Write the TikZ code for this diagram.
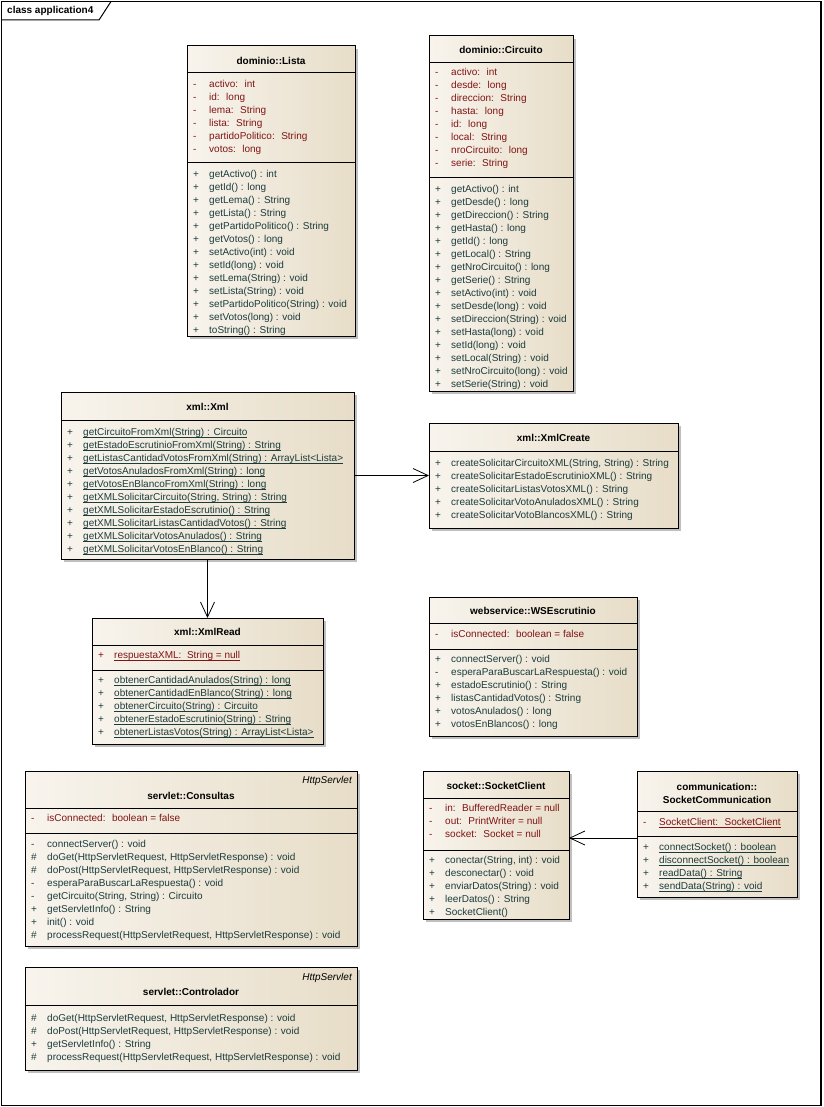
\documentclass[tikz,border=0pt]{standalone}
\usepackage{fontspec}
\setmainfont{Liberation Sans}
\usetikzlibrary{arrows.meta,shadows}

\definecolor{attrc}{RGB}{128,20,20}
\definecolor{methc}{RGB}{28,60,60}
\definecolor{boxl}{RGB}{248,244,237}
\definecolor{boxr}{RGB}{231,221,200}

\newcommand\umlfont{\fontsize{10}{12}\selectfont}
% wrappers for member texts: plain or underlined (static members)
\newcommand\asis[1]{#1}
\newcommand\ulined[1]{\setbox0\hbox{#1}\rlap{\rule[-1.7pt]{\wd0}{0.6pt}}\box0}
% rows of a compartment: #1 name prefix, #2 left x, #3 centre y of first row,
% #4 text style, #5 wrapper, #6 list of visibility/text pairs
\newcommand\members[6]{%
  \foreach [count=\i] \mvis/\mtext in {#6}{%
    \node[#4] (#1\i s) at ({#2+6},{#3+13*(\i-1)+3.5}) {\mvis};
    \node[#4] (#1\i) at ({#2+22},{#3+13*(\i-1)+3.5}) {#5{\mtext}};
  }}
\newcommand\hsep[2]{\draw[umlline] (#1.west |- 0,#2) -- (#1.east |- 0,#2);}

\tikzset{
  umlclass/.style={draw=black, line width=1pt, left color=boxl, right color=boxr,
    anchor=north west, inner sep=0pt, outer sep=0pt,
    drop shadow={shadow xshift=3pt, shadow yshift=-3pt, fill=black, opacity=0.25}},
  umlline/.style={line width=1pt, draw=black},
  umltitle/.style={font=\bfseries\umlfont, anchor=base, inner sep=0pt},
  stereo/.style={font=\itshape\umlfont, anchor=base east, inner sep=0pt},
  atxt/.style={font=\umlfont, text=attrc, anchor=base west, inner sep=0pt},
  mtxt/.style={font=\umlfont, text=methc, anchor=base west, inner sep=0pt},
  assoc/.style={line width=0.8pt, draw=black,
    -{Straight Barb[length=15pt, width=14pt, line width=0.8pt]}},
}

\begin{document}
\begin{tikzpicture}[x=1pt, y=-1pt]
\useasboundingbox (0,0) rectangle (823,1107);
\fill[white] (0,0) rectangle (823,1107);

% diagram frame with its name tab
\draw[line width=1.3pt] (1.5,1.5) rectangle (821,1105.5);
\draw[line width=1pt] (1.5,20) -- (99,20) -- (111,1.5);
\node[font=\bfseries\umlfont, anchor=base west, inner sep=0pt] (frame-title) at (7,14) {class application4};

% ---------- dominio::Lista ----------
\node[umlclass, minimum width=168pt, minimum height=290pt] (lista) at (187,46) {};
\node[umltitle] (lista-t) at (lista.north |- 0,64.5) {dominio::Lista};
\hsep{lista}{73}
\hsep{lista}{163}
\members{lista-a}{187}{84}{atxt}{\asis}{-/{activo:~ int}, -/{id:~ long}, -/{lema:~ String},
  -/{lista:~ String}, -/{partidoPolitico:~ String}, -/{votos:~ long}}
\members{lista-m}{187}{174}{mtxt}{\asis}{+/{getActivo() : int}, +/{getId() : long},
  +/{getLema() : String}, +/{getLista() : String}, +/{getPartidoPolitico() : String},
  +/{getVotos() : long}, +/{setActivo(int) : void}, +/{setId(long) : void},
  +/{setLema(String) : void}, +/{setLista(String) : void},
  +/{setPartidoPolitico(String) : void}, +/{setVotos(long) : void}, +/{toString() : String}}

% ---------- dominio::Circuito ----------
\node[umlclass, minimum width=144pt, minimum height=355pt] (circuito) at (429,36) {};
\node[umltitle] (circuito-t) at (circuito.north |- 0,53.5) {dominio::Circuito};
\hsep{circuito}{63}
\hsep{circuito}{178}
\members{circuito-a}{429}{72}{atxt}{\asis}{-/{activo:~ int}, -/{desde:~ long},
  -/{direccion:~ String}, -/{hasta:~ long}, -/{id:~ long}, -/{local:~ String},
  -/{nroCircuito:~ long}, -/{serie:~ String}}
\members{circuito-m}{429}{189}{mtxt}{\asis}{+/{getActivo() : int}, +/{getDesde() : long},
  +/{getDireccion() : String}, +/{getHasta() : long}, +/{getId() : long},
  +/{getLocal() : String}, +/{getNroCircuito() : long}, +/{getSerie() : String},
  +/{setActivo(int) : void}, +/{setDesde(long) : void}, +/{setDireccion(String) : void},
  +/{setHasta(long) : void}, +/{setId(long) : void}, +/{setLocal(String) : void},
  +/{setNroCircuito(long) : void}, +/{setSerie(String) : void}}

% ---------- xml::Xml ----------
\node[umlclass, minimum width=293pt, minimum height=167pt] (xml) at (61,392) {};
\node[umltitle] (xml-t) at (xml.north |- 0,410.5) {xml::Xml};
\hsep{xml}{420}
\members{xml-m}{61}{432}{mtxt}{\ulined}{+/{getCircuitoFromXml(String) : Circuito},
  +/{getEstadoEscrutinioFromXml(String) : String},
  +/{getListasCantidadVotosFromXml(String) : ArrayList<Lista>},
  +/{getVotosAnuladosFromXml(String) : long}, +/{getVotosEnBlancoFromXml(String) : long},
  +/{getXMLSolicitarCircuito(String, String) : String},
  +/{getXMLSolicitarEstadoEscrutinio() : String},
  +/{getXMLSolicitarListasCantidadVotos() : String},
  +/{getXMLSolicitarVotosAnulados() : String}, +/{getXMLSolicitarVotosEnBlanco() : String}}

% ---------- xml::XmlCreate ----------
\node[umlclass, minimum width=249pt, minimum height=105pt] (xmlcreate) at (429,423) {};
\node[umltitle] (xmlcreate-t) at (xmlcreate.north |- 0,441.5) {xml::XmlCreate};
\hsep{xmlcreate}{451}
\members{xmlcreate-m}{429}{463}{mtxt}{\asis}{+/{createSolicitarCircuitoXML(String, String) : String},
  +/{createSolicitarEstadoEscrutinioXML() : String}, +/{createSolicitarListasVotosXML() : String},
  +/{createSolicitarVotoAnuladosXML() : String}, +/{createSolicitarVotoBlancosXML() : String}}

% ---------- xml::XmlRead ----------
\node[umlclass, minimum width=231pt, minimum height=126pt] (xmlread) at (92,618) {};
\node[umltitle] (xmlread-t) at (xmlread.north |- 0,635.5) {xml::XmlRead};
\hsep{xmlread}{645}
\hsep{xmlread}{670}
\members{xmlread-a}{92}{655}{atxt}{\ulined}{+/{respuestaXML:~ String = null}}
\members{xmlread-m}{92}{680}{mtxt}{\ulined}{+/{obtenerCantidadAnulados(String) : long},
  +/{obtenerCantidadEnBlanco(String) : long}, +/{obtenerCircuito(String) : Circuito},
  +/{obtenerEstadoEscrutinio(String) : String}, +/{obtenerListasVotos(String) : ArrayList<Lista>}}

% ---------- webservice::WSEscrutinio ----------
\node[umlclass, minimum width=208pt, minimum height=139pt] (wsescrutinio) at (429,597) {};
\node[umltitle] (wsescrutinio-t) at (wsescrutinio.north |- 0,614.5) {webservice::WSEscrutinio};
\hsep{wsescrutinio}{623}
\hsep{wsescrutinio}{649}
\members{wsescrutinio-a}{429}{634}{atxt}{\asis}{-/{isConnected:~ boolean = false}}
\members{wsescrutinio-m}{429}{659}{mtxt}{\asis}{+/{connectServer() : void},
  -/{esperaParaBuscarLaRespuesta() : void}, +/{estadoEscrutinio() : String},
  +/{listasCantidadVotos() : String}, +/{votosAnulados() : long}, +/{votosEnBlancos() : long}}

% ---------- servlet::Consultas ----------
\node[umlclass, minimum width=332pt, minimum height=175pt] (consultas) at (25,771) {};
\node[stereo] (consultas-s) at (352,783.5) {HttpServlet};
\node[umltitle] (consultas-t) at (consultas.north |- 0,799.5) {servlet::Consultas};
\hsep{consultas}{808}
\hsep{consultas}{833}
\members{consultas-a}{25}{818}{atxt}{\asis}{-/{isConnected:~ boolean = false}}
\members{consultas-m}{25}{844}{mtxt}{\asis}{-/{connectServer() : void},
  \#/{doGet(HttpServletRequest, HttpServletResponse) : void},
  \#/{doPost(HttpServletRequest, HttpServletResponse) : void},
  -/{esperaParaBuscarLaRespuesta() : void}, -/{getCircuito(String, String) : Circuito},
  +/{getServletInfo() : String}, +/{init() : void},
  \#/{processRequest(HttpServletRequest, HttpServletResponse) : void}}

% ---------- servlet::Controlador ----------
\node[umlclass, minimum width=332pt, minimum height=103pt] (controlador) at (25,967) {};
\node[stereo] (controlador-s) at (352,980.5) {HttpServlet};
\node[umltitle] (controlador-t) at (controlador.north |- 0,995.5) {servlet::Controlador};
\hsep{controlador}{1005}
\members{controlador-m}{25}{1018}{mtxt}{\asis}{\#/{doGet(HttpServletRequest, HttpServletResponse) : void},
  \#/{doPost(HttpServletRequest, HttpServletResponse) : void}, +/{getServletInfo() : String},
  \#/{processRequest(HttpServletRequest, HttpServletResponse) : void}}

% ---------- socket::SocketClient ----------
\node[umlclass, minimum width=146pt, minimum height=148pt] (sockclient) at (423,771) {};
\node[umltitle] (sockclient-t) at (sockclient.north |- 0,789.5) {socket::SocketClient};
\hsep{sockclient}{798}
\hsep{sockclient}{850}
\members{sockclient-a}{423}{808}{atxt}{\asis}{-/{in:~ BufferedReader = null},
  -/{out:~ PrintWriter = null}, -/{socket:~ Socket = null}}
\members{sockclient-m}{423}{860}{mtxt}{\asis}{+/{conectar(String, int) : void},
  +/{desconectar() : void}, +/{enviarDatos(String) : void}, +/{leerDatos() : String},
  +/{SocketClient()}}

% ---------- communication::SocketCommunication ----------
\node[umlclass, minimum width=160pt, minimum height=126pt] (sockcomm) at (637,771) {};
\node[umltitle] (sockcomm-t1) at (sockcomm.north |- 0,790.5) {communication::};
\node[umltitle] (sockcomm-t2) at (sockcomm.north |- 0,803.5) {SocketCommunication};
\hsep{sockcomm}{811}
\hsep{sockcomm}{836}
\members{sockcomm-a}{637}{822}{atxt}{\ulined}{-/{SocketClient:~ SocketClient}}
\members{sockcomm-m}{637}{847}{mtxt}{\ulined}{+/{connectSocket() : boolean},
  +/{disconnectSocket() : boolean}, +/{readData() : String}, +/{sendData(String) : void}}

% ---------- associations ----------
\draw[assoc] (xml.east) -- (xml.east -| xmlcreate.west);
\draw[assoc] (xml.south -| xmlread.north) -- (xmlread.north);
\draw[assoc] (sockcomm.west |- 0,838) -- (sockclient.east |- 0,838);
\end{tikzpicture}
\end{document}
